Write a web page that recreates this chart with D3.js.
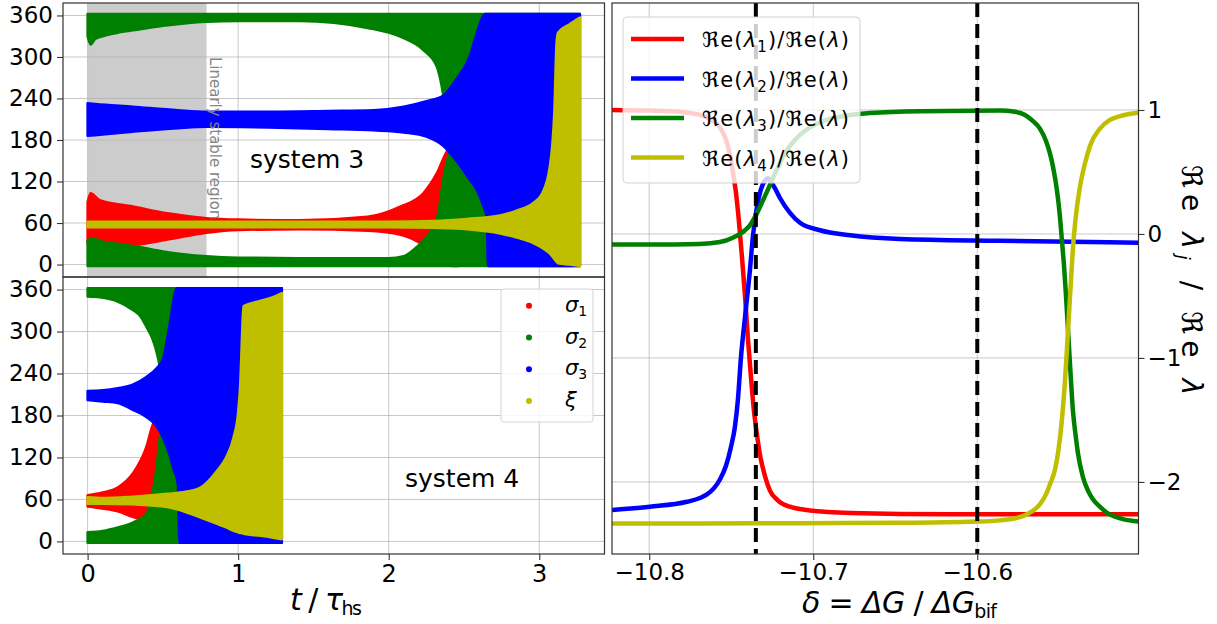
<!DOCTYPE html>
<html><head><meta charset="utf-8">
<script src="https://cdn.jsdelivr.net/npm/d3@7"></script>
<style>body{margin:0;background:#fff}text{font-family:"DejaVu Sans",sans-serif}</style>
</head><body>
<svg id="c" width="1217" height="624"></svg>
<script>
// ===== DATA: system 3 (top-left), envelopes of the scatter clouds (t in tau_hs, angle in deg)
const s3RedT  = [0, 0.02, 0.08, 0.3, 0.53, 0.79, 1.0, 1.41, 1.86, 2.08, 2.23, 2.32, 2.39, 2.45];
const s3RedHi = [90, 103, 93, 84, 74, 67, 65, 64, 69, 84, 103, 132, 165, 175];
const s3RedLo = [30, 28, 26, 28, 36, 46, 50, 51, 49, 43, 28, 12, 5, 5];

const s3GreenLowT  = [0, 0.03, 0.1, 0.2, 0.35, 0.5, 0.79, 1.0, 1.5, 2.0, 2.1, 2.19, 2.25, 2.3, 2.33, 2.36, 2.4, 2.43, 2.46];
const s3GreenLowHi = [35, 38, 33, 30, 25, 19, 12, 10, 9, 9, 12, 26, 40, 55, 75, 120, 160, 175, 180];
const s3GreenLowLo = [-2, -2, -2, -2, -2, -2, -2, -2, -2, -2, -2, -2, -2, -2, -2, -2, -2, -2, -2];

const s3GreenTopT  = [0, 0.02, 0.05, 0.1, 0.2, 0.35, 0.5, 0.79, 1.0, 1.41, 1.86, 2.08, 2.23, 2.32, 2.36, 2.39, 2.42, 3.27];
const s3GreenTopLo = [330, 318, 326, 330, 335, 340, 345, 351, 352, 352, 342, 329, 310, 286, 248, 200, -2, -2];
const s3GreenTopHi = [362, 362, 362, 362, 362, 362, 362, 362, 362, 362, 362, 362, 362, 362, 362, 362, 362, 362];

const s3BlueT  = [0, 0.05, 0.3, 0.6, 0.79, 1.2, 1.6, 1.9, 2.1, 2.25, 2.36, 2.45, 2.54, 2.58, 2.62, 2.64, 2.65, 2.66, 2.72, 3.27];
const s3BlueHi = [233, 232, 228, 223, 221, 221, 222, 223, 228, 236, 244, 268, 302, 331, 356, 362, 362, 362, 362, 362];
const s3BlueLo = [186, 187, 192, 197, 199, 198, 196, 194, 191, 185, 172, 150, 122, 110, 90, 78, 70, -2, -2, -2];

const s3YellowT  = [0, 0.5, 1.0, 1.5, 2.0, 2.3, 2.52, 2.74, 2.85, 2.96, 3.02, 3.07, 3.1, 3.115, 3.125, 3.2, 3.27];
const s3YellowHi = [62, 62, 62, 62, 62, 63, 66, 71, 78, 89, 103, 141, 220, 320, 335, 347, 357];
const s3YellowLo = [54, 54, 54, 54, 54, 53, 51, 45, 39, 31, 24, 16, 8, 4, 2, 0, -2];

// ===== DATA: system 4 (bottom-left)
const s4RedT  = [0, 0.1, 0.2, 0.3, 0.39, 0.43, 0.46, 0.5];
const s4RedHi = [66, 70, 77, 97, 135, 165, 178, 180];
const s4RedLo = [50, 47, 43, 35, 30, 30, 30, 30];

const s4GreenLowT  = [0, 0.1, 0.2, 0.3, 0.39, 0.41, 0.44, 0.46, 0.48, 0.5, 0.62];
const s4GreenLowHi = [13, 15, 20, 27, 39, 50, 80, 110, 150, 175, 175];
const s4GreenLowLo = [-2, -2, -2, -2, -2, -2, -2, -2, -2, -2, -2];

const s4GreenTopT  = [0, 0.08, 0.2, 0.3, 0.35, 0.39, 0.43, 0.46, 0.48, 0.5, 1.29];
const s4GreenTopLo = [350, 349, 343, 331, 322, 307, 290, 269, 245, -2, -2];
const s4GreenTopHi = [362, 362, 362, 362, 362, 362, 362, 362, 362, 362, 362];

const s4BlueT  = [0, 0.1, 0.2, 0.3, 0.39, 0.46, 0.5, 0.55, 0.575, 0.59, 0.6, 0.61, 1.29];
const s4BlueHi = [215, 216, 219, 224, 235, 248, 260, 317, 350, 362, 362, 362, 362];
const s4BlueLo = [202, 200, 198, 188, 178, 164, 149, 120, 100, 92, 80, -2, -2];

const s4YellowT  = [0, 0.1, 0.3, 0.53, 0.65, 0.75, 0.86, 0.92, 0.97, 1.0, 1.015, 1.025, 1.035, 1.15, 1.24, 1.29];
const s4YellowHi = [63, 62, 64, 68, 71, 77, 101, 120, 149, 185, 230, 290, 336, 344, 350, 355];
const s4YellowLo = [54, 54, 53, 49, 42, 34, 25, 20, 15, 13, 12, 12, 11, 8, 5, 3];

const stableRegion = [0, 0.79];
const angleTicks = [0, 60, 120, 180, 240, 300, 360];
const timeTicks = [0, 1, 2, 3];
const scatterLabels = ['σ', 'σ', 'σ', 'ξ'];
const scatterSubs = ['1', '2', '3', ''];

// ===== DATA: right panel, Re(lambda_j)/Re(lambda) vs delta
const deltaRed = [-10.8227, -10.7996, -10.7813, -10.7691, -10.7618, -10.7569, -10.7532, -10.7508, -10.7490, -10.7471, -10.7453, -10.7435, -10.7416, -10.7398, -10.7380, -10.7362, -10.7343, -10.7325, -10.7295, -10.7264, -10.7215, -10.7142, -10.7020, -10.6776, -10.6166, -10.5017];
const valRed   = [1.00, 0.995, 0.985, 0.96, 0.92, 0.86, 0.76, 0.64, 0.50, 0.33, 0.10, -0.18, -0.50, -0.85, -1.15, -1.42, -1.62, -1.78, -1.95, -2.07, -2.15, -2.20, -2.23, -2.25, -2.26, -2.26];

const deltaBlue = [-10.8227, -10.7996, -10.7770, -10.7691, -10.7648, -10.7605, -10.7569, -10.7532, -10.7502, -10.7477, -10.7459, -10.7441, -10.7416, -10.7386, -10.7368, -10.7343, -10.7319, -10.7295, -10.7276, -10.7258, -10.7234, -10.7203, -10.7142, -10.7081, -10.6959, -10.6776, -10.6471, -10.5862, -10.5017];
const valBlue   = [-2.226, -2.20, -2.16, -2.13, -2.10, -2.05, -1.98, -1.87, -1.72, -1.55, -1.33, -1.00, -0.67, -0.29, -0.02, 0.22, 0.36, 0.43, 0.45, 0.42, 0.37, 0.29, 0.17, 0.09, 0.03, -0.01, -0.04, -0.055, -0.07];

const deltaGreen = [-10.8227, -10.7996, -10.7691, -10.7569, -10.7490, -10.7416, -10.7386, -10.7350, -10.7307, -10.7276, -10.7246, -10.7215, -10.7185, -10.7142, -10.7081, -10.7020, -10.6929, -10.6819, -10.6654, -10.6349, -10.5862, -10.5770, -10.5709, -10.5660, -10.5618, -10.5581, -10.5557, -10.5538, -10.5514, -10.5496, -10.5484, -10.5471, -10.5459, -10.5447, -10.5435, -10.5417, -10.5398, -10.5386, -10.5356, -10.5325, -10.5295, -10.5252, -10.5209, -10.5160, -10.5112, -10.5017];
const valGreen   = [-0.085, -0.085, -0.08, -0.065, -0.03, 0.03, 0.07, 0.15, 0.27, 0.36, 0.45, 0.54, 0.62, 0.71, 0.80, 0.86, 0.915, 0.95, 0.975, 0.99, 0.995, 0.985, 0.96, 0.91, 0.85, 0.75, 0.65, 0.54, 0.35, 0.14, -0.05, -0.26, -0.50, -0.77, -1.04, -1.42, -1.65, -1.77, -1.96, -2.07, -2.14, -2.20, -2.25, -2.28, -2.30, -2.32];

const deltaYellow = [-10.8227, -10.7691, -10.7081, -10.6471, -10.6002, -10.5862, -10.5758, -10.5697, -10.5618, -10.5581, -10.5557, -10.5526, -10.5508, -10.5484, -10.5465, -10.5453, -10.5441, -10.5429, -10.5417, -10.5404, -10.5392, -10.5374, -10.5343, -10.5313, -10.5252, -10.5191, -10.5130, -10.5017];
const valYellow   = [-2.335, -2.335, -2.333, -2.33, -2.32, -2.31, -2.29, -2.26, -2.18, -2.10, -2.02, -1.90, -1.77, -1.50, -1.18, -0.92, -0.65, -0.38, -0.12, 0.08, 0.22, 0.38, 0.57, 0.71, 0.85, 0.92, 0.95, 0.98];

const bifurcationLines = [-10.735, -10.6];
const deltaTicks = [-10.8, -10.7, -10.6];
const ratioTicks = [-2, -1, 0, 1];
const lambdaSubs = ['1', '2', '3', '4'];

const C = {r: '#ff0000', g: '#008000', b: '#0000ff', y: '#bfbf00'};

// ===== SCALES
const svg = d3.select('#c');
const tx = d3.scaleLinear().domain([-0.1635, 3.4335]).range([63, 604.5]);
const yTop = d3.scaleLinear().domain([-18, 378]).range([277, 3]);
const yBot = d3.scaleLinear().domain([-18, 378]).range([554, 277]);
const dx = d3.scaleLinear().domain([-10.8227, -10.5017]).range([612, 1138.5]);
const ry = d3.scaleLinear().domain([-2.5813, 1.8629]).range([554, 3]);

const defs = svg.append('defs');
function clip(id, x, y, w, h) {
  defs.append('clipPath').attr('id', id).append('rect').attr('x', x).attr('y', y).attr('width', w).attr('height', h);
}
clip('cTop', 63, 3, 541.5, 274);
clip('cBot', 63, 277, 541.5, 277);
clip('cRight', 612, 3, 526.5, 551);

function grid(g, xs, ys, xScale, yScale, x0, x1, y0, y1) {
  xs.forEach(v => g.append('line').attr('x1', xScale(v)).attr('x2', xScale(v)).attr('y1', y0).attr('y2', y1)
    .attr('stroke', '#b0b0b0').attr('stroke-opacity', 0.7).attr('stroke-width', 1));
  ys.forEach(v => g.append('line').attr('y1', yScale(v)).attr('y2', yScale(v)).attr('x1', x0).attr('x2', x1)
    .attr('stroke', '#b0b0b0').attr('stroke-opacity', 0.7).attr('stroke-width', 1));
}

function band(g, y, T, Lo, Hi, color) {
  const data = T.map((t, i) => ({t, lo: Lo[i], hi: Hi[i]}));
  g.append('path').datum(data)
    .attr('d', d3.area().x(d => tx(d.t)).y0(d => y(d.lo)).y1(d => y(d.hi)).curve(d3.curveMonotoneX))
    .attr('fill', color).attr('stroke', color).attr('stroke-width', 2.5).attr('stroke-linejoin', 'round');
}

// ===== TOP-LEFT PANEL (system 3)
const gTop = svg.append('g').attr('clip-path', 'url(#cTop)');
gTop.append('rect').attr('x', tx(stableRegion[0])).attr('y', 3).attr('width', tx(stableRegion[1]) - tx(stableRegion[0])).attr('height', 274).attr('fill', '#cccccc');
grid(gTop, timeTicks, angleTicks, tx, yTop, 63, 604.5, 3, 277);
band(gTop, yTop, s3RedT, s3RedLo, s3RedHi, C.r);
band(gTop, yTop, s3GreenLowT, s3GreenLowLo, s3GreenLowHi, C.g);
band(gTop, yTop, s3GreenTopT, s3GreenTopLo, s3GreenTopHi, C.g);
band(gTop, yTop, s3BlueT, s3BlueLo, s3BlueHi, C.b);
band(gTop, yTop, s3YellowT, s3YellowLo, s3YellowHi, C.y);

svg.append('text').attr('transform', `translate(${tx(stableRegion[1]) + 3},57) rotate(90)`)
  .attr('font-size', 15).attr('fill', '#858585').text('Linearly stable region');
svg.append('text').attr('x', 250).attr('y', 168).attr('font-size', 25).attr('fill', '#000').text('system 3');

// ===== BOTTOM-LEFT PANEL (system 4)
const gBot = svg.append('g').attr('clip-path', 'url(#cBot)');
grid(gBot, timeTicks, angleTicks, tx, yBot, 63, 604.5, 277, 554);
band(gBot, yBot, s4RedT, s4RedLo, s4RedHi, C.r);
band(gBot, yBot, s4GreenLowT, s4GreenLowLo, s4GreenLowHi, C.g);
band(gBot, yBot, s4GreenTopT, s4GreenTopLo, s4GreenTopHi, C.g);
band(gBot, yBot, s4BlueT, s4BlueLo, s4BlueHi, C.b);
band(gBot, yBot, s4YellowT, s4YellowLo, s4YellowHi, C.y);
svg.append('text').attr('x', 405).attr('y', 487).attr('font-size', 25).attr('fill', '#000').text('system 4');

// left legend
const lg = svg.append('g');
lg.append('rect').attr('x', 501).attr('y', 289).attr('width', 92).attr('height', 133).attr('rx', 3)
  .attr('fill', '#fff').attr('fill-opacity', 0.85).attr('stroke', '#d5d5d5');
[C.r, C.g, C.b, C.y].forEach((c, i) => {
  const yy = 305.7 + i * 31.8;
  lg.append('circle').attr('cx', 529).attr('cy', yy).attr('r', 3).attr('fill', c);
  const t = lg.append('text').attr('x', 565).attr('y', yy + 6).attr('font-size', 21).attr('font-style', 'italic');
  t.append('tspan').text(scatterLabels[i]);
  if (scatterSubs[i]) t.append('tspan').attr('font-size', 14).attr('font-style', 'normal').attr('dy', 4).text(scatterSubs[i]);
});

// frames + axes left
function frame(x, y, w, h) {
  svg.append('rect').attr('x', x).attr('y', y).attr('width', w).attr('height', h).attr('fill', 'none').attr('stroke', '#333').attr('stroke-width', 1.2);
}
frame(63, 3, 541.5, 274);
frame(63, 277, 541.5, 277);

function styleAxis(g, size) {
  g.select('.domain').remove();
  g.selectAll('.tick line').attr('stroke', '#333').attr('stroke-width', 1.1);
  g.selectAll('.tick text').attr('font-size', size).attr('font-family', 'DejaVu Sans').attr('fill', '#000');
}
styleAxis(svg.append('g').attr('transform', 'translate(63,0)').call(d3.axisLeft(yTop).tickValues(angleTicks).tickFormat(d3.format('d')).tickSize(6).tickPadding(4)), 23);
styleAxis(svg.append('g').attr('transform', 'translate(63,0)').call(d3.axisLeft(yBot).tickValues(angleTicks).tickFormat(d3.format('d')).tickSize(6).tickPadding(4)), 23);
styleAxis(svg.append('g').attr('transform', 'translate(0,554)').call(d3.axisBottom(tx).tickValues(timeTicks).tickFormat(d3.format('d')).tickSize(6).tickPadding(5)), 24);

// math text helper
function mtext(parent, attrs, parts) {
  const t = parent.append('text');
  Object.entries(attrs).forEach(([k, v]) => t.attr(k, v));
  parts.forEach(p => {
    const s = t.append('tspan').text(p.s);
    if (p.i) s.attr('font-style', 'italic');
    if (p.f) s.attr('font-family', p.f);
    if (p.size) s.attr('font-size', p.size);
    if (p.dy) s.attr('dy', p.dy);
  });
  return t;
}
mtext(svg, {x: 290, y: 610, 'font-size': 30, 'font-family': 'Liberation Serif', textLength: 72, lengthAdjust: 'spacing'},
  [{s: 't', i: 1}, {s: ' / '}, {s: 'τ', i: 1}, {s: 'hs', f: 'DejaVu Sans', size: 19, dy: 5}]);

// ===== RIGHT PANEL
const gR = svg.append('g').attr('clip-path', 'url(#cRight)');
grid(gR, deltaTicks, ratioTicks, dx, ry, 612, 1138.5, 3, 554);
const line = d3.line().x(d => dx(d[0])).y(d => ry(d[1])).curve(d3.curveMonotoneX);
const series = [[deltaRed, valRed, C.r], [deltaBlue, valBlue, C.b], [deltaGreen, valGreen, C.g], [deltaYellow, valYellow, C.y]];
series.forEach(([X, Y, c]) => {
  gR.append('path').datum(X.map((v, i) => [v, Y[i]])).attr('d', line)
    .attr('fill', 'none').attr('stroke', c).attr('stroke-width', 4.5).attr('stroke-linejoin', 'round');
});
bifurcationLines.forEach(v => gR.append('line').attr('x1', dx(v)).attr('x2', dx(v)).attr('y1', 3).attr('y2', 554)
  .attr('stroke', '#000').attr('stroke-width', 4).attr('stroke-dasharray', '14,7'));

// right legend
const rg = svg.append('g');
rg.append('rect').attr('x', 623).attr('y', 17).attr('width', 237).attr('height', 166).attr('rx', 4)
  .attr('fill', '#fff').attr('fill-opacity', 0.8).attr('stroke', '#cccccc').attr('stroke-opacity', 0.9);
series.forEach(([, , c], i) => {
  const yy = 39 + i * 39.5;
  rg.append('line').attr('x1', 631).attr('x2', 684).attr('y1', yy).attr('y2', yy).attr('stroke', c).attr('stroke-width', 4.5);
  mtext(rg, {x: 702, y: yy + 8, 'font-size': 21, 'font-family': 'DejaVu Serif', textLength: 147, lengthAdjust: 'spacing'},
    [{s: 'ℜe('}, {s: 'λ', i: 1}, {s: lambdaSubs[i], size: 15, dy: 5}, {s: ')/ℜe(', dy: -5}, {s: 'λ', i: 1}, {s: ')'}]);
});

frame(612, 3, 526.5, 551);
styleAxis(svg.append('g').attr('transform', 'translate(1138.5,0)').call(d3.axisRight(ry).tickValues(ratioTicks).tickFormat(d3.format('d')).tickSize(6).tickPadding(3)), 23);
styleAxis(svg.append('g').attr('transform', 'translate(0,554)').call(d3.axisBottom(dx).tickValues(deltaTicks).tickFormat(d3.format('.1f')).tickSize(6).tickPadding(4)), 23);

mtext(svg, {x: 802, y: 613, 'font-size': 30, 'font-family': 'Liberation Serif', textLength: 195, lengthAdjust: 'spacing'},
  [{s: 'δ', i: 1}, {s: ' = '}, {s: 'ΔG', i: 1}, {s: ' / '}, {s: 'ΔG', i: 1}, {s: 'bif', f: 'DejaVu Sans', size: 19, dy: 5}]);

mtext(svg, {transform: 'translate(1182,280) rotate(90)', 'text-anchor': 'middle', 'font-size': 28, 'font-family': 'DejaVu Serif', textLength: 230, lengthAdjust: 'spacing'},
  [{s: 'ℜe '}, {s: 'λ', i: 1}, {s: 'j', i: 1, size: 18, dy: 5}, {s: ' / ℜe ', dy: -5}, {s: 'λ', i: 1}]);
</script>
</body></html>
